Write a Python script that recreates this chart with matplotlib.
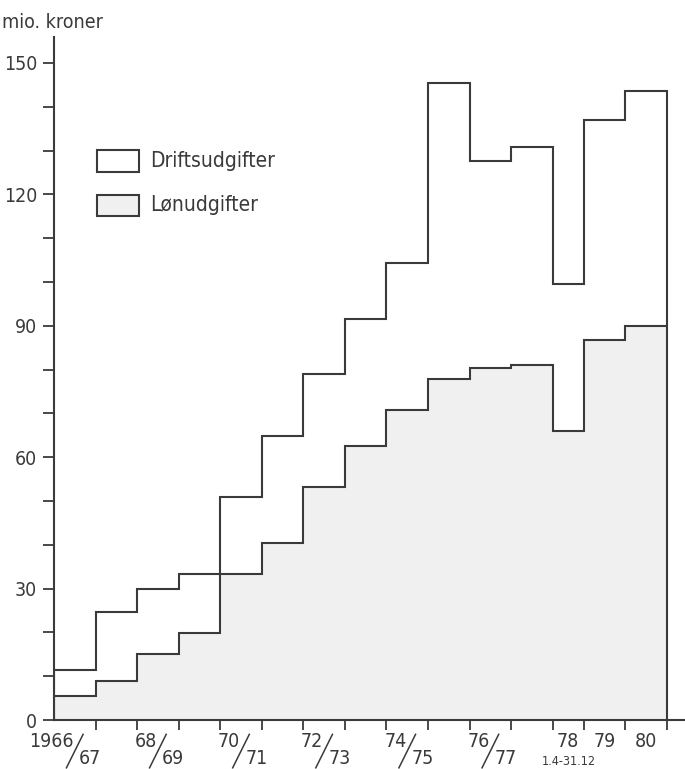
import matplotlib
matplotlib.use("Agg")
import matplotlib.pyplot as plt
from matplotlib.patches import Rectangle
from matplotlib.transforms import blended_transform_factory

plt.rcParams['font.family'] = ['DejaVu Sans']
plt.rcParams['font.stretch'] = 'condensed'

# period edges: fiscal years 1966/67 .. 1977/78, then 1978 (1.4-31.12, 9 months), 1979, 1980
edges = [0, 1, 2, 3, 4, 5, 6, 7, 8, 9, 10, 11, 12, 12.75, 13.75, 14.75]

# mio. kroner
drift = [11.4, 24.7, 29.9, 33.3, 50.9, 64.8, 79.0, 91.6, 104.3, 145.4,
         127.6, 130.8, 99.5, 137.0, 143.6]
lon = [5.5, 8.9, 15.1, 19.9, 33.3, 40.4, 53.2, 62.6, 70.8, 77.9,
       80.4, 81.0, 66.0, 86.8, 90.0]

pair_starts = [0, 2, 4, 6, 8, 10]
pair_top = ['1966', '68', '70', '72', '74', '76']
pair_bottom = ['67', '69', '71', '73', '75', '77']
single_labels = ['78', '79', '80']
single_index = [12, 13, 14]

ink = '#3a3a3a'
fill = '#f0f0f0'
fs = 14

fig = plt.figure(figsize=(6.85, 7.69), dpi=100)
ax = fig.add_axes([0.0788, 0.0637, 0.921, 0.888])

ax.stairs(lon, edges, baseline=0, fill=True, facecolor=fill, edgecolor='none')
ax.stairs(lon, edges, baseline=None, color=ink, lw=1.5)
ax.stairs(drift, edges, baseline=0, color=ink, lw=1.5)

ax.set_xlim(0, 15.18)
ax.set_ylim(0, 155.9)

for s in ['top', 'right']:
    ax.spines[s].set_visible(False)
for s in ['left', 'bottom']:
    ax.spines[s].set_color(ink)
    ax.spines[s].set_linewidth(1.5)

ax.set_yticks(range(0, 151, 10))
ax.set_yticklabels([str(v) if v % 30 == 0 else '' for v in range(0, 151, 10)])
ax.tick_params(axis='y', length=8, width=1.3, color=ink, labelsize=fs,
               labelcolor=ink, pad=4)
ax.set_xticks(edges[1:])
ax.set_xticklabels([])
ax.tick_params(axis='x', length=7, width=1.3, color=ink)

# x labels
tr = blended_transform_factory(ax.transData, ax.transAxes)
for s, a, b in zip(pair_starts, pair_top, pair_bottom):
    ax.text(s + 0.48, -0.0395, a, transform=tr, ha='right', va='baseline',
            fontsize=fs, color=ink)
    ax.text(s + 0.6, -0.0703, b, transform=tr, ha='left', va='bottom',
            fontsize=fs, color=ink)
    ax.plot([s + 0.3, s + 0.7], [-0.070, -0.021], transform=tr, color=ink,
            lw=1.1, clip_on=False)
for i, lab in zip(single_index, single_labels):
    c = (edges[i] + edges[i + 1]) / 2
    ax.text(c, -0.0395, lab, transform=tr, ha='center', va='baseline',
            fontsize=fs, color=ink)
ax.text(12.4, -0.0703, '1.4-31.12', transform=tr, ha='center', va='bottom',
        fontsize=9, color=ink)

fig.text(0.003, 0.971, 'mio. kroner', ha='left', va='center', fontsize=fs,
         color=ink)

# legend
ax.add_patch(Rectangle((0.068, 0.802), 0.067, 0.033, transform=ax.transAxes,
                       facecolor='white', edgecolor=ink, lw=1.5))
ax.add_patch(Rectangle((0.068, 0.738), 0.067, 0.031, transform=ax.transAxes,
                       facecolor=fill, edgecolor=ink, lw=1.5))
ax.text(0.152, 0.818, 'Driftsudgifter', transform=ax.transAxes, ha='left',
        va='center', fontsize=fs + 1, color=ink)
ax.text(0.152, 0.754, 'Lønudgifter', transform=ax.transAxes, ha='left',
        va='center', fontsize=fs + 1, color=ink)

fig.savefig('out.png', dpi=100)
